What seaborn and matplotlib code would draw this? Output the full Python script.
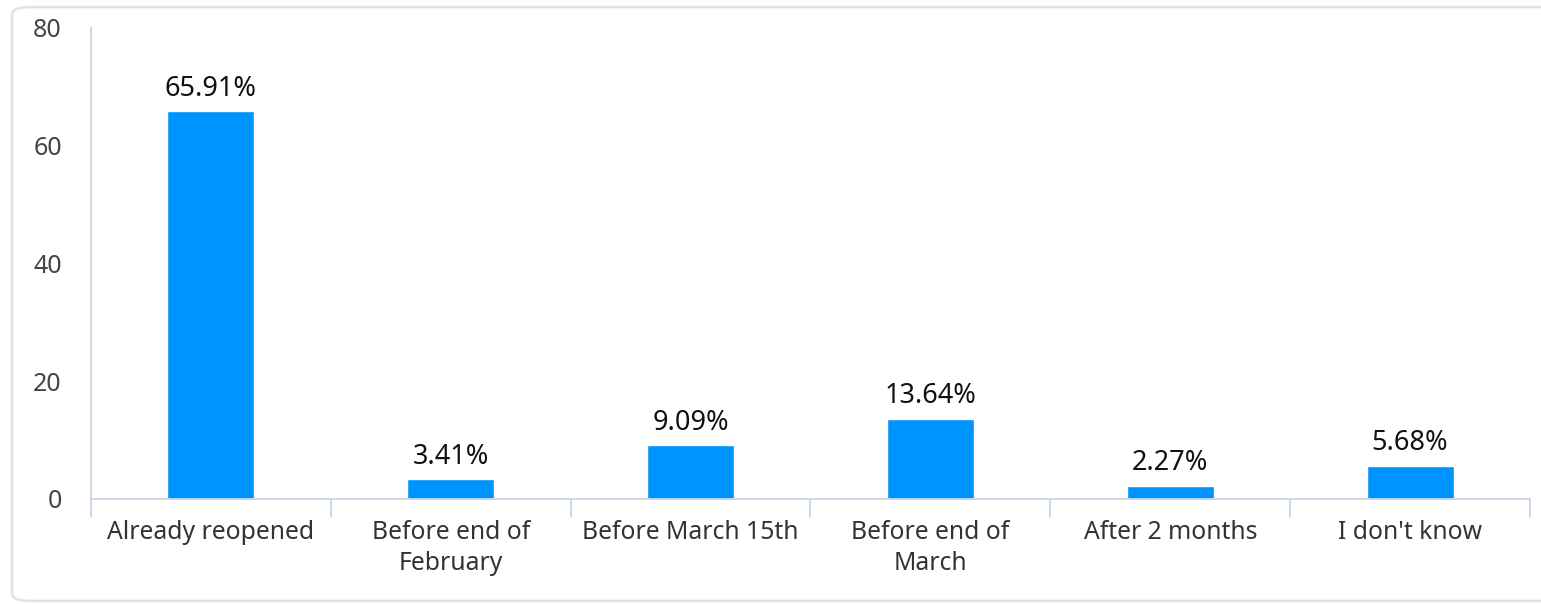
import matplotlib
matplotlib.use("Agg")
import matplotlib.pyplot as plt
from matplotlib.patches import FancyBboxPatch
import seaborn as sns
import pandas as pd

categories = ["Already reopened", "Before end of\nFebruary", "Before March 15th",
              "Before end of\nMarch", "After 2 months", "I don't know"]
values = [65.91, 3.41, 9.09, 13.64, 2.27, 5.68]
y_ticks = [0, 20, 40, 60, 80]

sns.set_theme(style="white")
plt.rcParams["font.family"] = ["Noto Sans", "DejaVu Sans"]

df = pd.DataFrame({"category": categories, "value": values})

fig = plt.figure(figsize=(15.41, 6.04), dpi=100)
ax = fig.add_axes([91 / 1541, 1 - 499 / 604, (1530 - 91) / 1541, (499 - 28) / 604])

# rounded card border around the chart
card = FancyBboxPatch((12 / 1541, 3 / 604), 1.2, 1 - 10 / 604,
                      boxstyle="round,pad=0,rounding_size=0.012",
                      transform=fig.transFigure, facecolor="none",
                      edgecolor="#e3e3e3", linewidth=2, clip_on=False)
fig.patches.append(card)

sns.barplot(data=df, x="category", y="value", color="#0094ff", saturation=1,
            width=0.363, ax=ax)

for i, v in enumerate(values):
    ax.text(i, v + 1.4, f"{v:.2f}%", ha="center", va="bottom",
            fontsize=19.5, color="#111111")

ax.set_ylim(0, 80)
ax.set_xlim(-0.5, len(categories) - 0.5)
ax.set_yticks(y_ticks)
ax.set_xlabel("")
ax.set_ylabel("")

axis_col = "#c9d4e6"
for side in ["top", "right"]:
    ax.spines[side].set_visible(False)
ax.spines["left"].set_color(axis_col)
ax.spines["bottom"].set_color(axis_col)
ax.spines["left"].set_linewidth(1.3)
ax.spines["bottom"].set_linewidth(1.3)

ax.tick_params(axis="y", length=0, pad=21, labelsize=18, labelcolor="#444444")
ax.tick_params(axis="x", which="major", length=0, pad=15, labelsize=17.8,
               labelcolor="#333333")
ax.set_xticks([i - 0.5 for i in range(len(categories) + 1)], minor=True)
ax.tick_params(axis="x", which="minor", bottom=True, length=13, width=1.3,
               color=axis_col, direction="out")
for lbl in ax.get_xticklabels():
    lbl.set_linespacing(1.3)

fig.savefig("out.png", dpi=100, facecolor="white")
